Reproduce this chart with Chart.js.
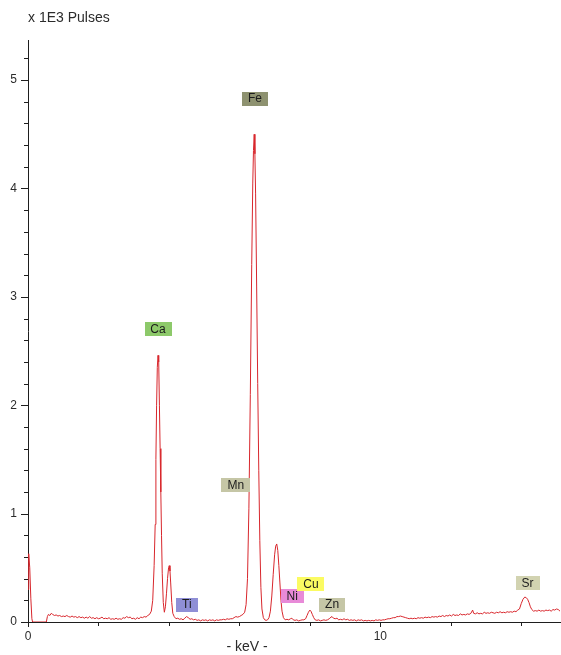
<!DOCTYPE html>
<html>
<head>
<meta charset="utf-8">
<script src="https://cdn.jsdelivr.net/npm/chart.js@4/dist/chart.umd.min.js"></script>
<style>
  html, body { margin: 0; padding: 0; background: #fff; }
  #spectrum { display: block; }
</style>
</head>
<body>
<canvas id="spectrum" width="561" height="655"></canvas>
<script>
/* XRF spectrum — pulses (x 1E3) against energy (keV) */

// energy axis (keV)
const kev = [
  0.00, 0.02, 0.05, 0.08, 0.11, 0.13, 0.52, 0.55, 0.58, 0.62,
  0.66, 0.70, 0.75, 0.80, 0.85, 0.90, 0.95, 1.00, 1.05, 1.10,
  1.15, 1.20, 1.25, 1.30, 1.35, 1.40, 1.45, 1.50, 1.55, 1.60,
  1.65, 1.70, 1.75, 1.80, 1.85, 1.90, 1.95, 2.00, 2.05, 2.10,
  2.15, 2.20, 2.25, 2.30, 2.35, 2.40, 2.45, 2.50, 2.55, 2.60,
  2.65, 2.70, 2.75, 2.80, 2.85, 2.90, 2.95, 3.00, 3.05, 3.10,
  3.15, 3.20, 3.25, 3.30, 3.35, 3.40, 3.45, 3.50, 3.54, 3.58,
  3.61, 3.63, 3.65, 3.67, 3.69, 3.71, 3.73, 3.75, 3.77, 3.79,
  3.81, 3.84, 3.87, 3.90, 3.93, 3.96, 3.99, 4.01, 4.03, 4.05,
  4.08, 4.11, 4.15, 4.20, 4.25, 4.30, 4.35, 4.40, 4.45, 4.50,
  4.55, 4.60, 4.65, 4.70, 4.75, 4.80, 4.85, 4.90, 4.95, 5.00,
  5.05, 5.10, 5.15, 5.20, 5.25, 5.30, 5.35, 5.40, 5.45, 5.50,
  5.55, 5.60, 5.65, 5.70, 5.75, 5.80, 5.85, 5.90, 5.95, 6.00,
  6.05, 6.10, 6.15, 6.19, 6.23, 6.27, 6.31, 6.35, 6.38, 6.40,
  6.42, 6.44, 6.46, 6.49, 6.52, 6.55, 6.58, 6.61, 6.64, 6.68,
  6.72, 6.76, 6.80, 6.84, 6.88, 6.92, 6.96, 7.00, 7.03, 7.06,
  7.09, 7.12, 7.15, 7.18, 7.21, 7.25, 7.30, 7.35, 7.40, 7.45,
  7.49, 7.53, 7.58, 7.63, 7.68, 7.73, 7.78, 7.83, 7.88, 7.92,
  7.96, 8.00, 8.03, 8.07, 8.11, 8.15, 8.20, 8.25, 8.30, 8.35,
  8.40, 8.45, 8.50, 8.55, 8.60, 8.63, 8.67, 8.72, 8.77, 8.82,
  8.87, 8.92, 8.97, 9.02, 9.07, 9.12, 9.17, 9.22, 9.27, 9.32,
  9.37, 9.42, 9.47, 9.52, 9.57, 9.62, 9.67, 9.72, 9.77, 9.82,
  9.87, 9.92, 9.97, 10.02, 10.07, 10.12, 10.17, 10.22, 10.27, 10.32,
  10.37, 10.42, 10.47, 10.52, 10.57, 10.62, 10.67, 10.72, 10.77, 10.82,
  10.87, 10.92, 10.97, 11.02, 11.07, 11.12, 11.17, 11.22, 11.27, 11.32,
  11.37, 11.42, 11.47, 11.52, 11.57, 11.62, 11.67, 11.72, 11.77, 11.82,
  11.87, 11.92, 11.97, 12.02, 12.07, 12.12, 12.17, 12.22, 12.27, 12.32,
  12.37, 12.42, 12.47, 12.52, 12.57, 12.62, 12.65, 12.70, 12.75, 12.80,
  12.85, 12.90, 12.95, 13.00, 13.05, 13.10, 13.15, 13.20, 13.25, 13.30,
  13.35, 13.40, 13.45, 13.50, 13.55, 13.60, 13.65, 13.70, 13.75, 13.80,
  13.85, 13.90, 13.95, 14.00, 14.05, 14.10, 14.14, 14.18, 14.22, 14.26,
  14.30, 14.35, 14.40, 14.45, 14.50, 14.55, 14.60, 14.65, 14.70, 14.75,
  14.80, 14.85, 14.90, 14.95, 15.00, 15.05, 15.10
];

// pulses (x 1E3) at each energy above
const pulses = [
  0.30, 0.63, 0.50, 0.22, 0.03, 0.00, 0.00, 0.05, 0.07, 0.06,
  0.08, 0.07, 0.06, 0.065, 0.055, 0.06, 0.05, 0.055, 0.05, 0.06,
  0.05, 0.045, 0.055, 0.045, 0.05, 0.04, 0.05, 0.04, 0.045, 0.035,
  0.045, 0.035, 0.05, 0.035, 0.04, 0.03, 0.04, 0.03, 0.035, 0.045,
  0.03, 0.035, 0.03, 0.04, 0.025, 0.03, 0.025, 0.035, 0.025, 0.03,
  0.025, 0.04, 0.035, 0.05, 0.04, 0.045, 0.03, 0.035, 0.025, 0.04,
  0.03, 0.045, 0.04, 0.05, 0.045, 0.06, 0.07, 0.10, 0.20, 0.52,
  0.90, 1.50, 2.00, 2.35, 2.46, 2.40, 2.00, 1.60, 1.20, 0.80,
  0.45, 0.18, 0.09, 0.14, 0.26, 0.40, 0.50, 0.52, 0.47, 0.36,
  0.18, 0.08, 0.05, 0.03, 0.035, 0.025, 0.03, 0.02, 0.035, 0.05,
  0.04, 0.025, 0.03, 0.02, 0.025, 0.015, 0.02, 0.01, 0.02, 0.015,
  0.02, 0.01, 0.02, 0.015, 0.02, 0.01, 0.02, 0.015, 0.02, 0.02,
  0.025, 0.02, 0.03, 0.025, 0.03, 0.03, 0.04, 0.05, 0.045, 0.05,
  0.06, 0.07, 0.09, 0.16, 0.40, 1.05, 2.10, 3.30, 4.05, 4.35,
  4.50, 4.32, 3.95, 3.10, 2.20, 1.40, 0.75, 0.32, 0.12, 0.04,
  0.02, 0.015, 0.02, 0.04, 0.10, 0.24, 0.44, 0.62, 0.70, 0.72,
  0.66, 0.52, 0.36, 0.20, 0.10, 0.04, 0.02, 0.025, 0.02, 0.03,
  0.035, 0.02, 0.015, 0.02, 0.01, 0.015, 0.02, 0.02, 0.03, 0.06,
  0.09, 0.11, 0.10, 0.07, 0.04, 0.02, 0.015, 0.02, 0.01, 0.015,
  0.02, 0.015, 0.02, 0.03, 0.045, 0.05, 0.035, 0.03, 0.035, 0.02,
  0.025, 0.02, 0.03, 0.02, 0.025, 0.015, 0.02, 0.015, 0.02, 0.01,
  0.02, 0.015, 0.02, 0.01, 0.015, 0.01, 0.015, 0.01, 0.015, 0.01,
  0.02, 0.015, 0.02, 0.015, 0.02, 0.02, 0.025, 0.03, 0.03, 0.035,
  0.04, 0.04, 0.05, 0.05, 0.055, 0.05, 0.045, 0.04, 0.035, 0.03,
  0.035, 0.03, 0.035, 0.03, 0.04, 0.035, 0.04, 0.035, 0.045, 0.04,
  0.045, 0.04, 0.05, 0.045, 0.05, 0.045, 0.055, 0.05, 0.06, 0.05,
  0.06, 0.055, 0.065, 0.055, 0.07, 0.06, 0.065, 0.06, 0.075, 0.065,
  0.07, 0.065, 0.075, 0.07, 0.08, 0.11, 0.08, 0.075, 0.085, 0.075,
  0.08, 0.075, 0.09, 0.08, 0.085, 0.08, 0.09, 0.085, 0.08, 0.09,
  0.085, 0.095, 0.085, 0.09, 0.085, 0.095, 0.09, 0.095, 0.09, 0.10,
  0.095, 0.11, 0.12, 0.17, 0.21, 0.23, 0.225, 0.21, 0.18, 0.14,
  0.115, 0.10, 0.105, 0.10, 0.11, 0.10, 0.105, 0.10, 0.11, 0.105,
  0.11, 0.10, 0.115, 0.11, 0.12, 0.115, 0.10
];

// element markers
const elementNames = ['Ca', 'Ti', 'Mn', 'Fe', 'Ni', 'Cu', 'Zn', 'Sr'];
const elementKev = [3.69, 4.51, 5.90, 6.44, 7.50, 8.03, 8.63, 14.18];
const elementPulses = [2.70, 0.16, 1.26, 4.83, 0.24, 0.35, 0.16, 0.36];
const elementColors = ['#8dc96a', '#8f8fd6', '#c5c6a6', '#8e9270', '#e88ad8', '#fbfb62', '#c5c6a6', '#d2d3b1'];

const FONT = '"Liberation Sans", Arial, sans-serif';
const TEXT_COLOR = '#2b2b2b';
const AXIS_COLOR = '#1e1e1e';

const isWhole = (v) => Math.abs(v - Math.round(v)) < 1e-6;

// Tick marks: long for labelled values, short otherwise
const tickMarks = {
  id: 'tickMarks',
  afterDraw(chart) {
    const { ctx, scales: { x, y } } = chart;
    ctx.save();
    ctx.strokeStyle = AXIS_COLOR;
    ctx.lineWidth = 1;
    ctx.beginPath();
    y.ticks.forEach(t => {
      const py = Math.round(y.getPixelForValue(t.value)) + 0.5;
      const len = isWhole(t.value) ? 7 : 4;
      ctx.moveTo(x.left - len, py);
      ctx.lineTo(x.left, py);
    });
    x.ticks.forEach(t => {
      const px = Math.round(x.getPixelForValue(t.value)) + 0.5;
      const len = t.value % 10 === 0 ? 5 : 4;
      ctx.moveTo(px, y.bottom);
      ctx.lineTo(px, y.bottom + len);
    });
    ctx.stroke();

    // unit captions
    ctx.fillStyle = TEXT_COLOR;
    ctx.font = `14px ${FONT}`;
    ctx.textBaseline = 'middle';
    ctx.textAlign = 'left';
    ctx.fillText('x 1E3 Pulses', 28, 18);
    ctx.textAlign = 'center';
    ctx.fillText('- keV -', 247, 647);
    ctx.restore();
  }
};

// Coloured element boxes placed in data coordinates
const elementBoxes = {
  id: 'elementBoxes',
  afterDatasetsDraw(chart) {
    const { ctx, scales: { x, y } } = chart;
    ctx.save();
    ctx.font = `12px ${FONT}`;
    ctx.textAlign = 'center';
    ctx.textBaseline = 'middle';
    elementNames.forEach((name, i) => {
      const cx = x.getPixelForValue(elementKev[i]);
      const cy = y.getPixelForValue(elementPulses[i]);
      const w = Math.round(ctx.measureText(name).width + 12);
      const h = 14;
      ctx.fillStyle = elementColors[i];
      ctx.fillRect(Math.round(cx - w / 2), Math.round(cy - h / 2), w, h);
      ctx.fillStyle = '#1c1c1c';
      ctx.fillText(name, cx, cy + 0.5);
    });
    ctx.restore();
  }
};

const points = kev.map((k, i) => ({ x: k, y: pulses[i] }));

new Chart(document.getElementById('spectrum'), {
  type: 'scatter',
  data: {
    datasets: [{
      data: points,
      showLine: true,
      borderColor: '#d8262c',
      borderWidth: 1,
      pointRadius: 0,
      tension: 0,
      fill: false,
    }]
  },
  options: {
    responsive: false,
    animation: false,
    layout: { padding: { top: 40, right: 1, left: 0, bottom: 0 } },
    plugins: {
      legend: { display: false },
      tooltip: { enabled: false },
    },
    scales: {
      x: {
        type: 'linear',
        min: 0,
        max: 15.1,
        grid: { drawOnChartArea: false, drawTicks: false },
        border: { color: AXIS_COLOR, width: 1 },
        ticks: {
          stepSize: 2,
          includeBounds: false,
          autoSkip: false,
          maxRotation: 0,
          padding: 7,
          color: TEXT_COLOR,
          font: { size: 12, family: FONT },
          callback: (v) => (v % 10 === 0 ? String(v) : ''),
        },
        afterFit(scale) { scale.height = 33; },
      },
      y: {
        min: 0,
        max: 5.37,
        grid: { drawOnChartArea: false, drawTicks: false },
        border: { color: AXIS_COLOR, width: 1 },
        ticks: {
          stepSize: 0.2,
          includeBounds: false,
          autoSkip: false,
          padding: 11,
          color: TEXT_COLOR,
          font: { size: 12, family: FONT },
          callback: (v) => (isWhole(v) ? String(Math.round(v)) : ''),
        },
        afterFit(scale) { scale.width = 28; },
      }
    }
  },
  plugins: [tickMarks, elementBoxes]
});
</script>
</body>
</html>
